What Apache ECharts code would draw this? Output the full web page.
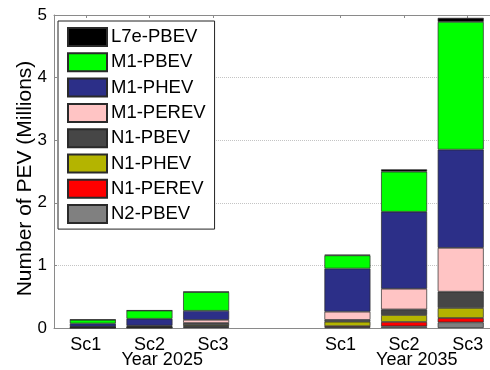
<!DOCTYPE html>
<html>
<head>
<meta charset="utf-8">
<script src="https://cdn.jsdelivr.net/npm/echarts@6/dist/echarts.min.js"></script>
<style>
  html, body { margin: 0; padding: 0; background: #fff; }
  #chart { width: 490px; height: 370px; }
</style>
</head>
<body>
<div id="chart"></div>
<script>
// Scenario labels and their tick positions on the x scale
const scenarioLabels = ['Sc1', 'Sc2', 'Sc3', 'Sc1', 'Sc2', 'Sc3'];
const tickSlots = [1, 2, 3, 5, 6, 7];
// Where each stacked bar sits (grouped around the middle tick of each year)
const barSlots = [1.11, 2, 2.89, 5.11, 6, 6.89];
// Year captions under each group
const yearLabels = ['Year 2025', 'Year 2035'];
const yearSlots = [2.2, 6.2];

// Vehicle classes, stacked bottom to top (millions of vehicles)
const N2_PBEV  = [0.004, 0.006, 0.015, 0.01, 0.027, 0.09];
const N1_PEREV = [0.002, 0.004, 0.01, 0.02, 0.07, 0.07];
const N1_PHEV  = [0.004, 0.006, 0.02, 0.07, 0.11, 0.16];
const N1_PBEV  = [0.008, 0.012, 0.035, 0.03, 0.09, 0.26];
const M1_PEREV = [0.004, 0.01, 0.05, 0.13, 0.33, 0.70];
const M1_PHEV  = [0.05, 0.11, 0.145, 0.69, 1.23, 1.57];
const M1_PBEV  = [0.06, 0.13, 0.30, 0.21, 0.64, 2.04];
const L7e_PBEV = [0.002, 0.004, 0.005, 0.01, 0.037, 0.064];

const yTicks = [0, 1, 2, 3, 4, 5];

const classes = [
  { name: 'N2-PBEV',  values: N2_PBEV,  color: '#808080' },
  { name: 'N1-PEREV', values: N1_PEREV, color: '#ff0000' },
  { name: 'N1-PHEV',  values: N1_PHEV,  color: '#b4b400' },
  { name: 'N1-PBEV',  values: N1_PBEV,  color: '#464646' },
  { name: 'M1-PEREV', values: M1_PEREV, color: '#ffc4c4' },
  { name: 'M1-PHEV',  values: M1_PHEV,  color: '#2c2f88' },
  { name: 'M1-PBEV',  values: M1_PBEV,  color: '#00ff00' },
  { name: 'L7e-PBEV', values: L7e_PBEV, color: '#000000' }
];

const FONT = 'Liberation Sans, Arial, Helvetica, sans-serif';
const AXIS_GRAY = '#8a8a8a';

const chart = echarts.init(document.getElementById('chart'), null, { renderer: 'canvas' });

// Each item is [value, slot]; the value comes first so the stack is built on y.
const series = classes.map(c => ({
  name: c.name,
  type: 'bar',
  stack: 'total',
  xAxisIndex: 0,
  yAxisIndex: 0,
  barWidth: 46,
  encode: { x: 1, y: 0 },
  itemStyle: { color: c.color, borderColor: '#2a2a2a', borderWidth: 0.7 },
  emphasis: { disabled: true },
  data: c.values.map((v, i) => [v, barSlots[i]])
}));

chart.setOption({
  animation: false,
  backgroundColor: '#ffffff',
  grid: { left: 54, right: 0, top: 15, bottom: 42 },
  legend: {
    orient: 'vertical',
    left: 58,
    top: 21,
    data: classes.map(c => c.name).reverse(),
    icon: 'rect',
    itemWidth: 39,
    itemHeight: 18,
    itemGap: 5.3,
    padding: [6, 9, 5, 9],
    backgroundColor: '#ffffff',
    borderColor: '#222',
    borderWidth: 1,
    borderRadius: 0,
    textStyle: { fontFamily: FONT, fontSize: 18.5, color: '#000', padding: [0, 0, 0, -1] },
    selectedMode: false
  },
  xAxis: [
    {
      type: 'value',
      position: 'bottom',
      min: 0.5,
      max: 7.35,
      splitLine: { show: false },
      axisLine: { show: true, onZero: false, lineStyle: { color: AXIS_GRAY, width: 1 } },
      axisTick: { show: false },
      axisLabel: {
        customValues: tickSlots,
        formatter: v => scenarioLabels[tickSlots.indexOf(v)] || '',
        fontFamily: FONT,
        fontSize: 18,
        color: '#000',
        margin: 8
      }
    },
    {
      type: 'value',
      position: 'bottom',
      min: 0.5,
      max: 7.35,
      splitLine: { show: false },
      axisLine: { show: false },
      axisTick: { show: false },
      axisLabel: {
        customValues: yearSlots,
        formatter: v => yearLabels[yearSlots.indexOf(v)] || '',
        fontFamily: FONT,
        fontSize: 18,
        color: '#000',
        margin: 23
      }
    },
    {
      type: 'value',
      position: 'top',
      min: 0.5,
      max: 7.35,
      splitLine: { show: false },
      axisLine: { show: true, lineStyle: { color: AXIS_GRAY, width: 1 } },
      axisTick: { show: true, inside: true, length: 3, customValues: tickSlots, lineStyle: { color: AXIS_GRAY } },
      axisLabel: { show: false }
    }
  ],
  yAxis: {
    type: 'value',
    min: 0,
    max: 5,
    interval: 1,
    name: 'Number of PEV (Millions)',
    nameLocation: 'middle',
    nameGap: 18,
    nameMoveOverlap: false,
    nameTextStyle: { fontFamily: FONT, fontSize: 21, color: '#000', padding: [0, 14, 0, 0] },
    axisLine: { show: true, lineStyle: { color: AXIS_GRAY, width: 1 } },
    axisTick: { show: true, inside: true, length: 3, lineStyle: { color: AXIS_GRAY } },
    axisLabel: {
      customValues: yTicks,
      fontFamily: FONT,
      fontSize: 17,
      color: '#000',
      margin: 7
    },
    splitLine: { show: true, lineStyle: { color: '#c4c4c4', type: 'dotted', width: 1 } }
  },
  series: series
});
</script>
</body>
</html>
